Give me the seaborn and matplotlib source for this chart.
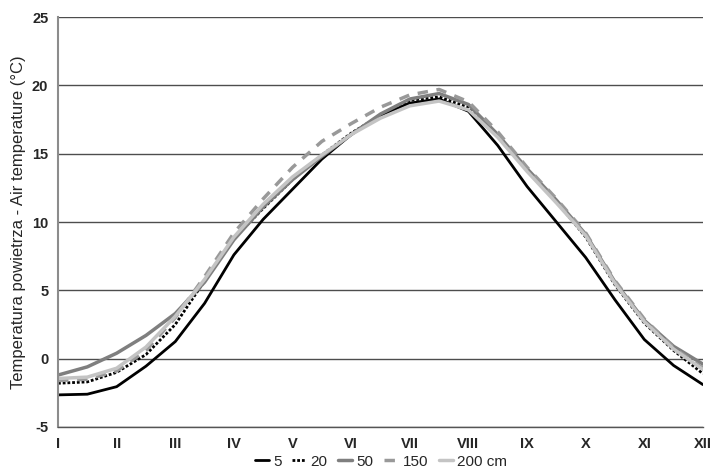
import numpy as np
import pandas as pd
import matplotlib
matplotlib.use('Agg')
import matplotlib.pyplot as plt
import seaborn as sns

months = ['I', 'II', 'III', 'IV', 'V', 'VI', 'VII', 'VIII', 'IX', 'X', 'XI', 'XII']
# half-month positions along the year axis (0 = I ... 11 = XII)
pos = [i / 2 for i in range(23)]

t5 = [-2.65, -2.6, -2.05, -0.55, 1.25, 4.05, 7.6, 10.2, 12.4, 14.6, 16.4, 17.8,
      18.7, 19.0, 18.1, 15.6, 12.6, 10.0, 7.4, 4.3, 1.4, -0.5, -1.9]
t20 = [-1.8, -1.7, -1.0, 0.3, 2.5, 5.7, 8.8, 11.0, 13.1, 14.9, 16.5, 17.8,
       18.9, 19.15, 18.4, 16.3, 13.8, 11.5, 8.9, 5.4, 2.6, 0.6, -1.1]
t50 = [-1.2, -0.6, 0.4, 1.7, 3.3, 5.6, 8.7, 11.1, 13.1, 14.8, 16.4, 17.9,
       19.0, 19.4, 18.6, 16.4, 13.9, 11.6, 9.1, 5.6, 2.8, 0.9, -0.4]
t150 = [-1.6, -1.5, -0.9, 0.6, 3.0, 6.0, 9.2, 11.7, 14.0, 15.9, 17.2, 18.4,
        19.3, 19.7, 18.8, 16.6, 14.0, 11.7, 9.2, 5.7, 2.9, 0.8, -0.7]
t200 = [-1.45, -1.35, -0.7, 0.85, 3.1, 5.8, 8.9, 11.3, 13.3, 14.9, 16.4, 17.6,
        18.5, 18.85, 18.2, 16.2, 13.7, 11.4, 9.0, 5.5, 2.7, 0.7, -0.8]

labels = ['5', '20', '50', '150', '200 cm']
series = [t5, t20, t50, t150, t200]
styles = [
    dict(color='black', lw=2.0, ls='-'),
    dict(color='black', lw=2.0, ls=(0, (1, 0.7))),
    dict(color='#7f7f7f', lw=2.5, ls='-'),
    dict(color='#999999', lw=2.5, ls=(0, (3, 2.5))),
    dict(color='#c4c4c4', lw=2.5, ls='-'),
]

sns.set_style('white')
plt.rcParams['font.family'] = ['Liberation Sans', 'DejaVu Sans']
plt.rcParams['axes.unicode_minus'] = False

fig = plt.figure(figsize=(7.11, 4.70), dpi=100)
ax = fig.add_axes([0.0816, 0.0915, 0.9071, 0.8723])

for lab, vals, st in zip(labels, series, styles):
    df = pd.DataFrame({'pos': pos, 'temp': vals})
    sns.lineplot(data=df, x='pos', y='temp', ax=ax, label=lab, **st)

ax.set_xlim(0, 11)
ax.set_ylim(-5, 25)
ax.set_yticks(range(-5, 26, 5))
ax.set_xticks(range(12))
ax.set_xticklabels(months, fontweight='bold', fontsize=10.5)
for t in ax.get_yticklabels():
    t.set_fontweight('bold')
    t.set_fontsize(10.5)
ax.set_xlabel('')
ax.set_ylabel('Temperatura powietrza - Air temperature (°C)', fontsize=12, labelpad=4)

ax.yaxis.grid(True, color='#4d4d4d', lw=1.0)
ax.set_axisbelow(True)
for s in ['top', 'right']:
    ax.spines[s].set_visible(False)
ax.spines['left'].set_color('#8c8c8c')
ax.spines['left'].set_linewidth(1.5)
ax.spines['bottom'].set_color('#555555')
ax.spines['bottom'].set_linewidth(1.0)
ax.tick_params(axis='both', direction='out', length=4, width=1, color='#777777', pad=3)

handles, labs = ax.get_legend_handles_labels()
ax.legend_.remove()
fig.legend(handles, labs, loc='center', bbox_to_anchor=(0.536, 0.018), ncol=5,
           frameon=False, fontsize=11, handlelength=0.9, handletextpad=0.3,
           columnspacing=0.7)

fig.savefig('out.png', dpi=100)
